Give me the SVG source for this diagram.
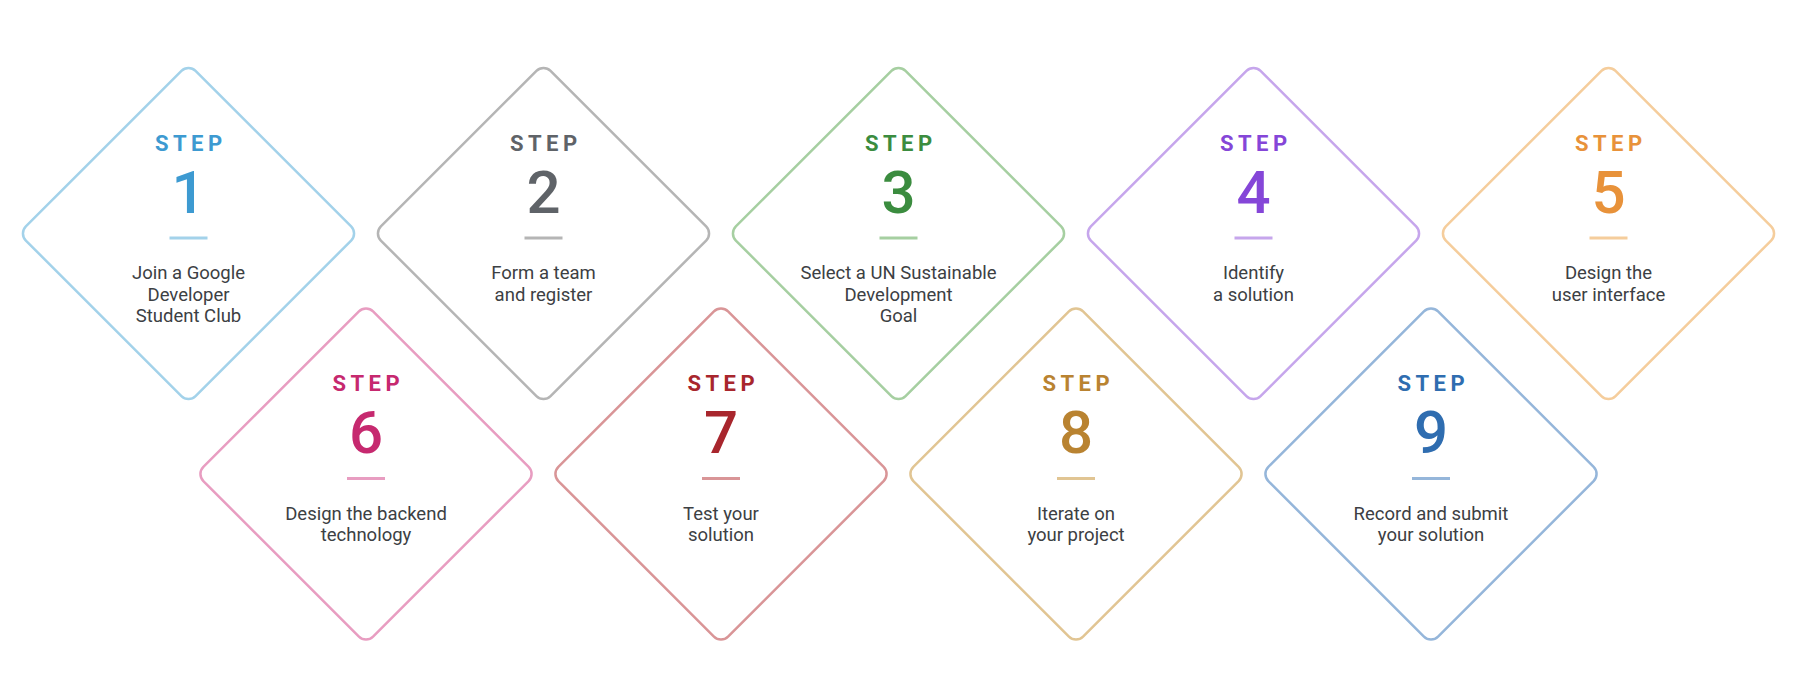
<svg xmlns="http://www.w3.org/2000/svg" width="1800" height="697" viewBox="0 0 1800 697">
<style>
.d{fill:#fff;stroke-width:2.5}
.st{font-family:Roboto,"Liberation Sans",sans-serif;font-weight:700;font-size:22px;letter-spacing:4.5px;text-anchor:middle}
.num{font-family:Roboto,"Liberation Sans",sans-serif;font-weight:500;font-size:60px;text-anchor:middle}
.rule{stroke-width:3}
.tx{font-family:Roboto,"Liberation Sans",sans-serif;font-size:18.5px;fill:#3c4043;text-anchor:middle}
</style>
<rect width="1800" height="697" fill="#fff"/>
<g id="connectors"></g>
<g id="step1" transform="translate(188.5,233.5)">
<rect class="d" x="-120" y="-120" width="240" height="240" rx="10" transform="rotate(45)" stroke="#a3d2ea"/>
<text class="st" x="2.25" y="-83" fill="#3d9ad1">STEP</text>
<text class="num" x="0" y="-21" fill="#3d9ad1">1</text>
<line class="rule" x1="-19" y1="4.5" x2="19" y2="4.5" stroke="#a3d2ea"/>
<text class="tx" x="0" y="45.5">Join a Google</text>
<text class="tx" x="0" y="67">Developer</text>
<text class="tx" x="0" y="88.5">Student Club</text>
</g>
<g id="step2" transform="translate(543.5,233.5)">
<rect class="d" x="-120" y="-120" width="240" height="240" rx="10" transform="rotate(45)" stroke="#b5b5b5"/>
<text class="st" x="2.25" y="-83" fill="#5f6368">STEP</text>
<text class="num" x="0" y="-21" fill="#5f6368">2</text>
<line class="rule" x1="-19" y1="4.5" x2="19" y2="4.5" stroke="#b5b5b5"/>
<text class="tx" x="0" y="45.5">Form a team</text>
<text class="tx" x="0" y="67">and register</text>
</g>
<g id="step3" transform="translate(898.5,233.5)">
<rect class="d" x="-120" y="-120" width="240" height="240" rx="10" transform="rotate(45)" stroke="#a6cfa1"/>
<text class="st" x="2.25" y="-83" fill="#3b8c3f">STEP</text>
<text class="num" x="0" y="-21" fill="#3b8c3f">3</text>
<line class="rule" x1="-19" y1="4.5" x2="19" y2="4.5" stroke="#a6cfa1"/>
<text class="tx" x="0" y="45.5">Select a UN Sustainable</text>
<text class="tx" x="0" y="67">Development</text>
<text class="tx" x="0" y="88.5">Goal</text>
</g>
<g id="step4" transform="translate(1253.5,233.5)">
<rect class="d" x="-120" y="-120" width="240" height="240" rx="10" transform="rotate(45)" stroke="#c6a6ec"/>
<text class="st" x="2.25" y="-83" fill="#8546d8">STEP</text>
<text class="num" x="0" y="-21" fill="#8546d8">4</text>
<line class="rule" x1="-19" y1="4.5" x2="19" y2="4.5" stroke="#c6a6ec"/>
<text class="tx" x="0" y="45.5">Identify</text>
<text class="tx" x="0" y="67">a solution</text>
</g>
<g id="step5" transform="translate(1608.5,233.5)">
<rect class="d" x="-120" y="-120" width="240" height="240" rx="10" transform="rotate(45)" stroke="#f5cd9c"/>
<text class="st" x="2.25" y="-83" fill="#e8923a">STEP</text>
<text class="num" x="0" y="-21" fill="#e8923a">5</text>
<line class="rule" x1="-19" y1="4.5" x2="19" y2="4.5" stroke="#f5cd9c"/>
<text class="tx" x="0" y="45.5">Design the</text>
<text class="tx" x="0" y="67">user interface</text>
</g>
<g id="step6" transform="translate(366,474)">
<rect class="d" x="-120" y="-120" width="240" height="240" rx="10" transform="rotate(45)" stroke="#e89dc1"/>
<text class="st" x="2.25" y="-83" fill="#c6296f">STEP</text>
<text class="num" x="0" y="-21" fill="#c6296f">6</text>
<line class="rule" x1="-19" y1="4.5" x2="19" y2="4.5" stroke="#e89dc1"/>
<text class="tx" x="0" y="45.5">Design the backend</text>
<text class="tx" x="0" y="67">technology</text>
</g>
<g id="step7" transform="translate(721,474)">
<rect class="d" x="-120" y="-120" width="240" height="240" rx="10" transform="rotate(45)" stroke="#d99597"/>
<text class="st" x="2.25" y="-83" fill="#a8262d">STEP</text>
<text class="num" x="0" y="-21" fill="#a8262d">7</text>
<line class="rule" x1="-19" y1="4.5" x2="19" y2="4.5" stroke="#d99597"/>
<text class="tx" x="0" y="45.5">Test your</text>
<text class="tx" x="0" y="67">solution</text>
</g>
<g id="step8" transform="translate(1076,474)">
<rect class="d" x="-120" y="-120" width="240" height="240" rx="10" transform="rotate(45)" stroke="#e1c593"/>
<text class="st" x="2.25" y="-83" fill="#b98331">STEP</text>
<text class="num" x="0" y="-21" fill="#b98331">8</text>
<line class="rule" x1="-19" y1="4.5" x2="19" y2="4.5" stroke="#e1c593"/>
<text class="tx" x="0" y="45.5">Iterate on</text>
<text class="tx" x="0" y="67">your project</text>
</g>
<g id="step9" transform="translate(1431,474)">
<rect class="d" x="-120" y="-120" width="240" height="240" rx="10" transform="rotate(45)" stroke="#95b6da"/>
<text class="st" x="2.25" y="-83" fill="#2f6db0">STEP</text>
<text class="num" x="0" y="-21" fill="#2f6db0">9</text>
<line class="rule" x1="-19" y1="4.5" x2="19" y2="4.5" stroke="#95b6da"/>
<text class="tx" x="0" y="45.5">Record and submit</text>
<text class="tx" x="0" y="67">your solution</text>
</g>
</svg>
